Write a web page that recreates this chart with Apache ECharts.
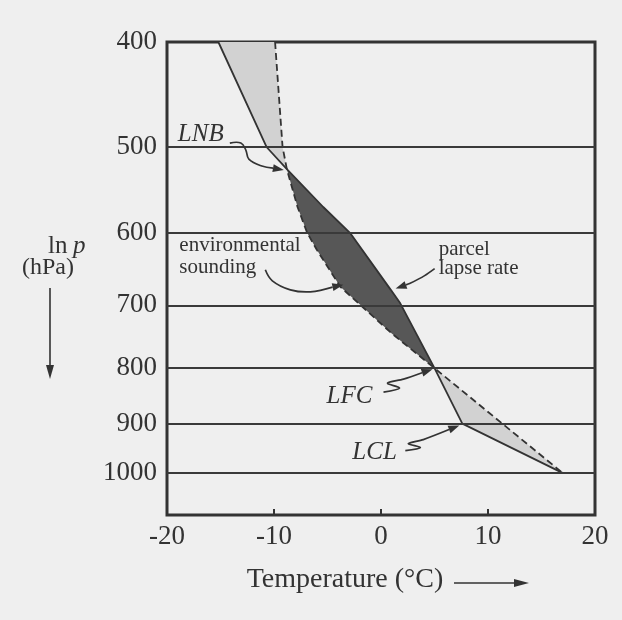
<!DOCTYPE html>
<html><head><meta charset="utf-8">
<script src="https://cdn.jsdelivr.net/npm/echarts@6/dist/echarts.min.js"></script>
<style>html,body{margin:0;padding:0;background:#efefef}#c{width:622px;height:620px}</style>
</head><body><div id="c"></div>
<script>
// ---- data ----
const temperatureTicks = [-20, -10, 0, 10, 20];
const pressureTicks = [400, 500, 600, 700, 800, 900, 1000];
const gridPressures = [500, 600, 700, 800, 900, 1000];

// parcel lapse rate (solid line)
const parcelT = [-15.2, -10.7, -8.8, -5.4, -2.9, 0.9, 1.8, 5.0, 7.6, 17.0];
const parcelP = [400, 500, 524, 568, 600, 677, 697, 800, 900, 1000];
// environmental sounding (dashed line)
const envT = [-9.9, -9.2, -8.8, -7.8, -6.9, -6.0, -3.8, -2.1, 1.0, 5.0, 17.0];
const envP = [400, 500, 524, 568, 600, 622, 673, 697, 743, 800, 1000];

const LNB = [-8.8, 524];
const LFC = [5.0, 800];
const LCL = [7.6, 900];
const envPoint = [-3.8, 673];
const parcelPoint = [0.9, 677];

const SERIF = '"Liberation Serif", "Times New Roman", serif';
const INK = '#333333';

function pick(T, P, lo, hi) {
  const out = [];
  for (let i = 0; i < T.length; i++) if (P[i] >= lo && P[i] <= hi) out.push([T[i], P[i]]);
  return out;
}

const annotations = [
  { anchor: LNB, lines: ['LNB'], italic: true, size: 25, textOff: [-109, -26], lineGap: 0,
    path: [[-57, -26], [-46, -26], [-41, -19], [-38, -10], [-25, -3], [-3, 1]], smooth: 0.4 },
  { anchor: envPoint, lines: ['environmental', 'sounding'], italic: false, size: 21, textOff: [-161, -34], lineGap: 22,
    path: [[-75, -17], [-68, -6], [-50, 3], [-30, 5], [3, -2]], smooth: 0.4 },
  { anchor: parcelPoint, lines: ['parcel', 'lapse rate'], italic: false, size: 21, textOff: [48, -33], lineGap: 19,
    path: [[44, -21], [34, -14], [19, -6], [5, -1]], smooth: 0.3 },
  { anchor: LFC, lines: ['LFC'], italic: true, size: 25, textOff: [-108, 37], lineGap: 0,
    path: [[-51, 24], [-35, 20], [-47, 15], [-31, 11], [-2, 1]], smooth: 0.3 },
  { anchor: LCL, lines: ['LCL'], italic: true, size: 25, textOff: [-110, 37], lineGap: 0,
    path: [[-57, 27], [-42, 24], [-54, 20], [-39, 16], [-3, 2]], smooth: 0.3 }
];

function arrowHead(p1, p2, len, hw) {
  const dx = p2[0] - p1[0], dy = p2[1] - p1[1];
  const d = Math.hypot(dx, dy) || 1;
  const ux = dx / d, uy = dy / d;
  const bx = p2[0] - ux * len, by = p2[1] - uy * len;
  return [[p2[0], p2[1]], [bx - uy * hw, by + ux * hw], [bx + uy * hw, by - ux * hw]];
}

const chart = echarts.init(document.getElementById('c'));
chart.setOption({
  animation: false,
  backgroundColor: '#efefef',
  grid: { left: 167, right: 27, top: 42, bottom: 105, show: true, borderColor: INK, borderWidth: 3, backgroundColor: 'transparent' },
  xAxis: {
    type: 'value', min: -20, max: 20, interval: 10,
    axisLine: { show: false },
    axisTick: { show: true, inside: true, length: 6, lineStyle: { color: INK, width: 2 } },
    splitLine: { show: false },
    axisLabel: { color: INK, fontFamily: SERIF, fontSize: 27, margin: 8, formatter: v => String(v) }
  },
  yAxis: {
    type: 'log', logBase: 10, min: 400, max: 1093, inverse: true,
    axisLine: { show: false }, axisTick: { show: false }, splitLine: { show: false },
    axisLabel: { color: INK, fontFamily: SERIF, fontSize: 27, margin: 10, customValues: pressureTicks, formatter: v => String(Math.round(v)) }
  },
  graphic: [
    { type: 'text', x: 345, y: 580, style: { text: 'Temperature (°C)', font: '28px ' + SERIF, fill: INK, textAlign: 'center', textVerticalAlign: 'middle' } },
    { type: 'line', shape: { x1: 454, y1: 583, x2: 518, y2: 583 }, style: { stroke: INK, lineWidth: 1.6 } },
    { type: 'polygon', shape: { points: [[529, 583], [514, 579], [514, 587]] }, style: { fill: INK } },
    { type: 'text', x: 48, y: 246, style: { text: 'ln', font: '25px ' + SERIF, fill: INK, textAlign: 'left', textVerticalAlign: 'middle' } },
    { type: 'text', x: 73, y: 246, style: { text: 'p', font: 'italic 25px ' + SERIF, fill: INK, textAlign: 'left', textVerticalAlign: 'middle' } },
    { type: 'text', x: 48, y: 268, style: { text: '(hPa)', font: '24px ' + SERIF, fill: INK, textAlign: 'center', textVerticalAlign: 'middle' } },
    { type: 'line', shape: { x1: 50, y1: 288, x2: 50, y2: 368 }, style: { stroke: INK, lineWidth: 1.6 } },
    { type: 'polygon', shape: { points: [[50, 379], [46, 365], [54, 365]] }, style: { fill: INK } }
  ],
  series: [
    {
      type: 'custom', z: 1, silent: true, clip: true, data: [[0, 600]],
      renderItem: function (params, api) {
        const poly = (lo, hi) => {
          const a = pick(parcelT, parcelP, lo, hi).map(d => api.coord(d));
          const b = pick(envT, envP, lo, hi).reverse().map(d => api.coord(d));
          return a.concat(b);
        };
        return { type: 'group', children: [
          { type: 'polygon', shape: { points: poly(400, LNB[1]) }, style: { fill: '#d2d2d2' } },
          { type: 'polygon', shape: { points: poly(LNB[1], LFC[1]) }, style: { fill: '#575757' } },
          { type: 'polygon', shape: { points: poly(LFC[1], 1000) }, style: { fill: '#d2d2d2' } }
        ] };
      }
    },
    {
      type: 'line', name: 'parcel lapse rate', z: 4, symbol: 'none',
      data: parcelT.map((t, i) => [t, parcelP[i]]),
      lineStyle: { color: INK, width: 1.8 },
      markLine: {
        silent: true, symbol: ['none', 'none'], label: { show: false },
        lineStyle: { color: '#3a3a3a', width: 2.2, type: 'solid' },
        data: gridPressures.map(p => ({ yAxis: p }))
      }
    },
    {
      type: 'line', name: 'environmental sounding', z: 4, symbol: 'none',
      data: envT.map((t, i) => [t, envP[i]]),
      lineStyle: { color: INK, width: 1.8, type: [7, 4] }
    },
    {
      type: 'custom', z: 5, silent: true, clip: false, data: [[0, 600]],
      renderItem: function (params, api) {
        const children = [];
        annotations.forEach(a => {
          const c = api.coord(a.anchor);
          const pts = a.path.map(o => [c[0] + o[0], c[1] + o[1]]);
          const n = pts.length;
          const head = arrowHead(pts[n - 2], pts[n - 1], 11, 4);
          const body = pts.slice(0, n - 1).concat([[ (head[1][0] + head[2][0]) / 2, (head[1][1] + head[2][1]) / 2 ]]);
          children.push({ type: 'polyline', shape: { points: body, smooth: a.smooth }, style: { stroke: INK, lineWidth: 1.7, fill: null } });
          children.push({ type: 'polygon', shape: { points: head }, style: { fill: INK } });
          a.lines.forEach((t, k) => {
            children.push({ type: 'text', style: {
              x: c[0] + a.textOff[0], y: c[1] + a.textOff[1] + k * a.lineGap - 0.34 * a.size,
              text: t, font: (a.italic ? 'italic ' : '') + a.size + 'px ' + SERIF, fill: INK,
              textAlign: 'left', textVerticalAlign: 'middle' } });
          });
        });
        return { type: 'group', children: children };
      }
    }
  ]
});
</script>
</body></html>
